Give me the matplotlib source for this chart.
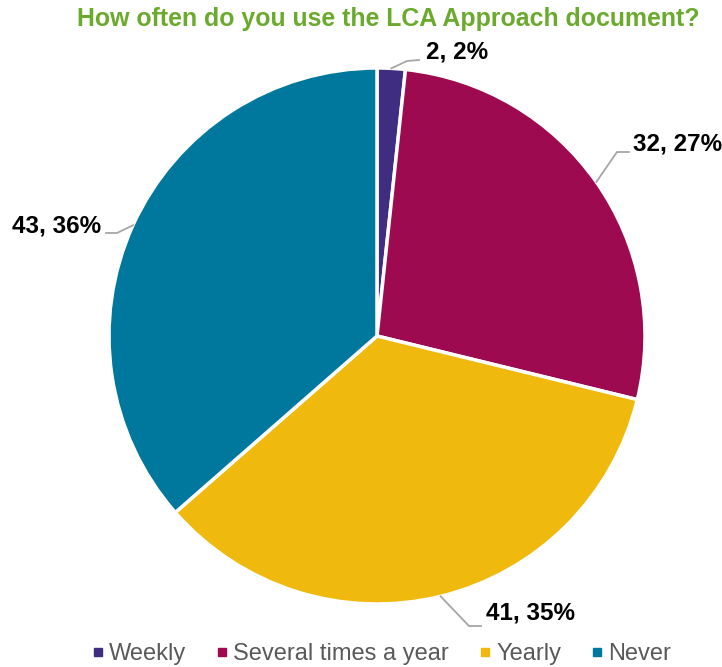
import matplotlib
matplotlib.use("Agg")
import matplotlib.pyplot as plt
from matplotlib.lines import Line2D
import numpy as np

plt.rcParams['font.family'] = ['Liberation Sans', 'DejaVu Sans']

categories = ["Weekly", "Several times a year", "Yearly", "Never"]
counts = [2, 32, 41, 43]
percent_labels = ["2%", "27%", "35%", "36%"]
colors = ["#3E2D80", "#9E0A50", "#F0B90E", "#00789E"]

W, H = 722, 667
fig = plt.figure(figsize=(W / 100, H / 100), dpi=100)

# pie centre and radius in pixels
cx, cy, r = 377, 336, 268
ax = fig.add_axes([(cx - r) / W, (H - cy - r) / H, 2 * r / W, 2 * r / H])
wedges, _ = ax.pie(counts, colors=colors, startangle=90, counterclock=False,
                   wedgeprops=dict(edgecolor="white", linewidth=2.5))
ax.set_xlim(-1, 1)
ax.set_ylim(-1, 1)
ax.set_aspect("equal")
ax.axis("off")

# data label placement: (elbow, line end, text anchor, ha)
def px(x, y):
    return ((x - cx) / r, (cy - y) / r)

label_layout = [
    (px(407, 61), px(419, 60), px(426, 52), "left"),
    (px(617, 152), px(629, 152), px(633, 144), "left"),
    (px(469, 626), px(481, 626), px(486, 613), "left"),
    (px(117, 233), px(106, 233), px(101, 226), "right"),
]

for w, n, pct, (elbow, end, txt, ha) in zip(wedges, counts, percent_labels, label_layout):
    mid = np.deg2rad((w.theta1 + w.theta2) / 2)
    start = (np.cos(mid), np.sin(mid))
    ax.plot([start[0], elbow[0], end[0]], [start[1], elbow[1], end[1]],
            color="#A6A6A6", lw=1.3, clip_on=False, solid_joinstyle="miter")
    ax.text(txt[0], txt[1], f"{n}, {pct}", ha=ha, va="center", fontsize=17.5,
            fontweight="bold", color="black", clip_on=False)

fig.text(388 / W, 1 - 19 / H, "How often do you use the LCA Approach document?",
         ha="center", va="center", fontsize=17.9, fontweight="bold", color="#6AAA2C")

handles = [Line2D([], [], marker="s", linestyle="none", markersize=5.8,
                  markerfacecolor=c, markeredgecolor=c) for c in colors]
fig.legend(handles, categories, loc="center", bbox_to_anchor=(382.5 / W, 1 - 654 / H),
           ncol=4, frameon=False, fontsize=17, handlelength=0.34, handletextpad=0.3,
           columnspacing=1.36, labelcolor="#595959", borderpad=0, borderaxespad=0)

fig.savefig("out.png", dpi=100)
